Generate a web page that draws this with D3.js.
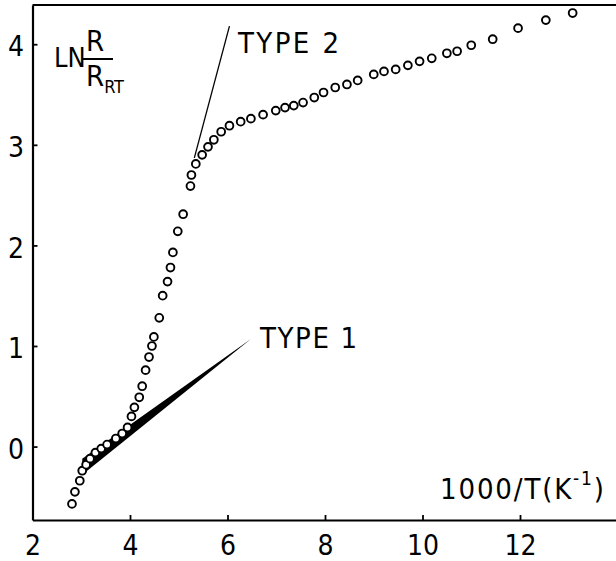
<!DOCTYPE html>
<html>
<head>
<meta charset="utf-8">
<script src="https://d3js.org/d3.v7.min.js"></script>
<style>
	body { margin: 0; background: #fff; }
	#D3 text { font-family: "Liberation Sans Narrow", "DejaVu Sans Condensed", sans-serif; fill: #000; }
</style>
</head>
<body>
<div id="D3"></div>
<script>

// measured points, x = 1000/T, y = ln(R/Rrt)
var invT = [2.81, 2.87, 2.97, 3.02, 3.10, 3.18, 3.29, 3.41, 3.53, 3.71,
	3.84, 3.95, 4.03, 4.09, 4.19, 4.25, 4.32, 4.39, 4.45, 4.49,
	4.60, 4.67, 4.77, 4.83, 4.88, 4.98, 5.09, 5.24, 5.26, 5.35,
	5.48, 5.60, 5.72, 5.87, 6.04, 6.27, 6.48, 6.73, 6.99, 7.18,
	7.36, 7.55, 7.78, 7.97, 8.21, 8.45, 8.67, 9.00, 9.21, 9.45,
	9.70, 9.94, 10.19, 10.50, 10.71, 11.00, 11.44, 11.96, 12.53, 13.08];
var lnR = [-0.57, -0.45, -0.34, -0.24, -0.18, -0.12, -0.06, -0.02, 0.02, 0.08,
	0.13, 0.19, 0.30, 0.39, 0.49, 0.60, 0.76, 0.89, 1.00, 1.09,
	1.28, 1.50, 1.64, 1.78, 1.93, 2.14, 2.31, 2.59, 2.70, 2.81,
	2.90, 2.98, 3.05, 3.13, 3.19, 3.23, 3.26, 3.30, 3.34, 3.37,
	3.39, 3.42, 3.47, 3.52, 3.57, 3.60, 3.64, 3.70, 3.73, 3.75,
	3.79, 3.83, 3.86, 3.91, 3.93, 3.99, 4.05, 4.16, 4.24, 4.31];

var xTicks = [2, 4, 6, 8, 10, 12];
var yTicks = [0, 1, 2, 3, 4];

// pointer lines to the labels
var typeTwoLine = [[5.32, 2.87], [6.04, 4.18]];
var typeOneWedge = [[3.02, -0.12], [6.48, 1.07], [3.02, -0.28]];

var w = 616;
var h = 561;

var x = d3.scaleLinear().domain([2, 14]).range([32.5, 617.5]);
var y = d3.scaleLinear().domain([-0.73, 4.39]).range([520, 5]);

var SVG = d3.select("#D3").append("svg")
	.attr("width", w)
	.attr("height", h);

// frame
SVG.append("line")
	.attr("x1", x(2)).attr("x2", x(14))
	.attr("y1", y(4.39)).attr("y2", y(4.39))
	.attr("stroke", "#000").attr("stroke-width", 2.2);

var xAxis = SVG.append("g")
	.attr("transform", "translate(0," + y(-0.73) + ")")
	.call(d3.axisBottom(x).tickValues(xTicks).tickFormat(d3.format("d"))
		.tickSize(-5).tickSizeOuter(0).tickPadding(15));

var yAxis = SVG.append("g")
	.attr("transform", "translate(" + x(2) + ",0)")
	.call(d3.axisLeft(y).tickValues(yTicks).tickFormat(d3.format("d"))
		.tickSize(-5).tickSizeOuter(0));

SVG.selectAll(".domain").attr("stroke-width", 2.2);
SVG.selectAll(".tick line").attr("stroke-width", 1.8);
SVG.selectAll(".tick text").style("font-size", "28px");
yAxis.selectAll(".tick text")
	.attr("text-anchor", "middle")
	.attr("x", -16.5)
	.attr("dy", "0.42em");

// type 1 wedge
SVG.append("polygon")
	.attr("points", typeOneWedge.map(function (d) {
		return x(d[0]) + "," + y(d[1]);
	}).join(" "))
	.attr("fill", "#000");

SVG.append("line")
	.attr("x1", x(typeTwoLine[0][0])).attr("y1", y(typeTwoLine[0][1]))
	.attr("x2", x(typeTwoLine[1][0])).attr("y2", y(typeTwoLine[1][1]))
	.attr("stroke", "#000")
	.attr("stroke-width", 1.3);

SVG.selectAll("circle")
	.data(invT)
	.enter()
	.append("circle")
	.attr("cx", function (d) {
		return x(d);
	})
	.attr("cy", function (d, i) {
		return y(lnR[i]);
	})
	.attr("r", 3.9)
	.attr("fill", "#fff")
	.attr("stroke", "#000")
	.attr("stroke-width", 1.9);

// labels
SVG.append("text")
	.attr("x", 238).attr("y", 53)
	.attr("textLength", 101)
	.style("font-size", "29px")
	.text("TYPE 2");

SVG.append("text")
	.attr("x", 260).attr("y", 348)
	.attr("textLength", 97)
	.style("font-size", "29px")
	.text("TYPE 1");

var xTitle = SVG.append("text")
	.attr("x", 440).attr("y", 499)
	.attr("textLength", 164)
	.style("font-size", "29px");
xTitle.append("tspan").text("1000/T(K");
xTitle.append("tspan").attr("dy", -14).style("font-size", "19px").text("-1");
xTitle.append("tspan").attr("dy", 14).text(")");

var yTitle = SVG.append("g");
yTitle.append("text")
	.attr("x", 54).attr("y", 67)
	.style("font-size", "27px")
	.text("LN");
yTitle.append("text")
	.attr("x", 86).attr("y", 51)
	.style("font-size", "29px")
	.text("R");
yTitle.append("line")
	.attr("x1", 83).attr("x2", 113)
	.attr("y1", 59).attr("y2", 59)
	.attr("stroke", "#000").attr("stroke-width", 2);
var denom = yTitle.append("text")
	.attr("x", 86).attr("y", 86)
	.style("font-size", "29px");
denom.append("tspan").text("R");
denom.append("tspan").attr("dy", 7).style("font-size", "18px").text("RT");

</script>
</body>
</html>
